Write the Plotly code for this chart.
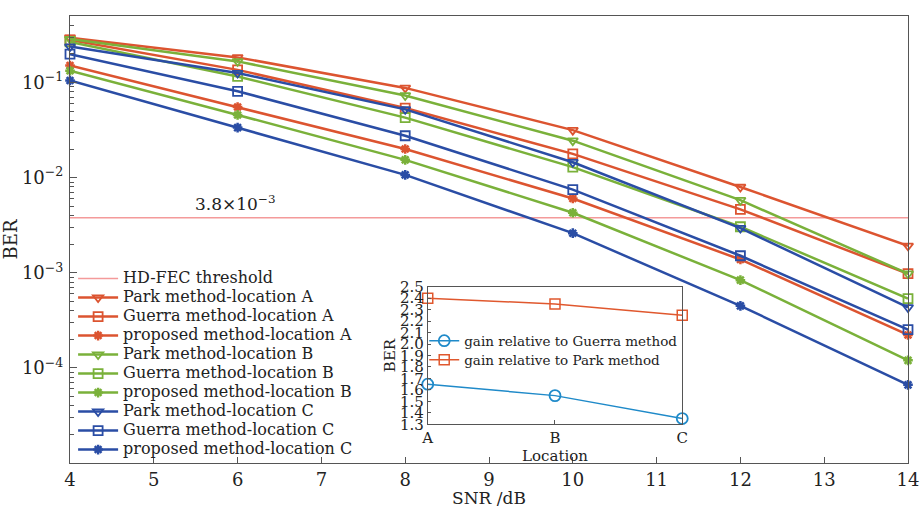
import plotly.graph_objects as go
import numpy as np

snr = [4, 6, 8, 10, 12, 14]

park_A = [0.296, 0.184, 0.0879, 0.0316, 0.00798, 0.00192]
guerra_A = [0.280, 0.136, 0.0540, 0.0178, 0.00465, 0.000978]
prop_A = [0.151, 0.0553, 0.0200, 0.00604, 0.00138, 0.000222]
park_B = [0.287, 0.167, 0.0732, 0.0245, 0.00580, 0.000978]
guerra_B = [0.268, 0.116, 0.0428, 0.0129, 0.00305, 0.000536]
prop_B = [0.133, 0.0457, 0.0154, 0.00428, 0.000837, 0.000120]
park_C = [0.239, 0.126, 0.0523, 0.01454, 0.00295, 0.000432]
guerra_C = [0.199, 0.081, 0.0276, 0.0075, 0.00151, 0.000252]
prop_C = [0.105, 0.0336, 0.0107, 0.00261, 0.000449, 0.0000663]

threshold = 3.8e-3

locations = ["A", "B", "C"]
gain_guerra = [1.65, 1.55, 1.35]
gain_park = [2.40, 2.35, 2.25]

RED = "#DC5430"
GREEN = "#7AB13A"
BLUE = "#2A4DA5"
FONT = "DejaVu Serif"


def big(txt, px):
    return "<span style='font-size:%spx'>%s</span>" % (px, txt)


fig = go.Figure()

fig.add_trace(go.Scatter(x=[snr[0], snr[-1]], y=[threshold, threshold], mode="lines",
                         line=dict(color="#F49A9A", width=1.5),
                         name=big("HD-FEC threshold", 16)))

series = [
    ("Park method-location A", park_A, RED, "triangle-down-open"),
    ("Guerra method-location A", guerra_A, RED, "square-open"),
    ("proposed method-location A", prop_A, RED, "asterisk-open"),
    ("Park method-location B", park_B, GREEN, "triangle-down-open"),
    ("Guerra method-location B", guerra_B, GREEN, "square-open"),
    ("proposed method-location B", prop_B, GREEN, "asterisk-open"),
    ("Park method-location C", park_C, BLUE, "triangle-down-open"),
    ("Guerra method-location C", guerra_C, BLUE, "square-open"),
    ("proposed method-location C", prop_C, BLUE, "asterisk-open"),
]
for name, vals, col, sym in series:
    fig.add_trace(go.Scatter(
        x=snr, y=vals, mode="lines+markers", name=big(name, 16), cliponaxis=False,
        line=dict(color=col, width=2.5),
        marker=dict(symbol=sym, size=9 if "asterisk" not in sym else 8, color=col,
                    line=dict(color=col, width=2.5 if "asterisk" in sym else 1.8)),
    ))

# inset
fig.add_trace(go.Scatter(x=locations, y=gain_guerra, mode="lines+markers",
                         name=big("gain relative to Guerra method", 13.5),
                         xaxis="x2", yaxis="y2", legend="legend2", cliponaxis=False,
                         line=dict(color="#1F8AC9", width=1.5),
                         marker=dict(symbol="circle-open", size=11, color="#1F8AC9",
                                     line=dict(width=1.8, color="#1F8AC9"))))
fig.add_trace(go.Scatter(x=locations, y=gain_park, mode="lines+markers",
                         name=big("gain relative to Park method", 13.5),
                         xaxis="x2", yaxis="y2", legend="legend2", cliponaxis=False,
                         line=dict(color="#E0582E", width=1.5),
                         marker=dict(symbol="square-open", size=10, color="#E0582E",
                                     line=dict(width=1.5, color="#E0582E"))))

minor_vals = [k * 10.0 ** e for e in range(-5, 0) for k in range(2, 10)]
major_vals = [1e-4, 1e-3, 1e-2, 1e-1]
major_text = ["10<sup>−4</sup>", "10<sup>−3</sup>", "10<sup>−2</sup>", "10<sup>−1</sup>"]

axcol = "#555555"
fig.update_layout(
    width=920, height=508,
    margin=dict(l=70, r=12, t=16, b=45, autoexpand=False),
    paper_bgcolor="white", plot_bgcolor="white",
    font=dict(family=FONT, size=16, color="#222222"),
    showlegend=True,
    xaxis=dict(range=[4, 14], dtick=1, tick0=4, ticks="inside", ticklen=6, tickcolor=axcol,
               showline=True, linecolor=axcol, linewidth=1, mirror=True, showgrid=False,
               zeroline=False, tickfont=dict(size=18), ticklabelstandoff=0,
               title=dict(text="SNR /dB", font=dict(size=17), standoff=0)),
    yaxis=dict(type="log", range=[-5, -0.3], tickvals=major_vals, ticktext=major_text,
               ticks="inside", ticklen=7, tickcolor=axcol, showline=True, linecolor=axcol,
               linewidth=1, mirror=True, showgrid=False, zeroline=False,
               tickfont=dict(size=18), ticklabelstandoff=2,
               minor=dict(tickvals=minor_vals, ticks="inside", ticklen=4, tickcolor=axcol,
                          showgrid=False),
               title=dict(text="BER", font=dict(size=18), standoff=10)),
    xaxis2=dict(domain=[0.4269, 0.7306], anchor="y2", type="category",
                range=[0, 2], ticks="inside", ticklen=4, tickcolor=axcol,
                showline=True, linecolor=axcol, mirror=True, showgrid=False,
                tickfont=dict(size=15), ticklabelstandoff=0,
                title=dict(text="Location", font=dict(size=15), standoff=0)),
    yaxis2=dict(domain=[0.0866, 0.3944], anchor="x2", range=[1.3, 2.5], dtick=0.1,
                tick0=1.3, tickformat=".1f", ticks="inside", ticklen=3, tickcolor=axcol,
                showline=True, linecolor=axcol, mirror=True, showgrid=False, zeroline=False,
                tickfont=dict(size=15), ticklabelstandoff=0,
                title=dict(text="BER", font=dict(size=15), standoff=0)),
    legend=dict(x=0.0037, y=0.445, xanchor="left", yanchor="top", bgcolor="rgba(0,0,0,0)",
                font=dict(size=12, family=FONT), tracegroupgap=0, itemwidth=40,
                borderwidth=0),
    legend2=dict(x=0.4227, y=0.306, xanchor="left", yanchor="top",
                 bgcolor="rgba(0,0,0,0)", font=dict(size=12.3, family=FONT),
                 itemwidth=30, borderwidth=0),
    annotations=[
        dict(x=5.97, y=np.log10(threshold), xref="x", yref="y", text="3.8×10<sup>−3</sup>",
             showarrow=False, yanchor="bottom", yshift=2, font=dict(size=17, family=FONT)),
    ],
)

fig.write_html("out.html", config={"displayModeBar": False},
               post_script="document.body.style.margin='0';document.body.style.overflow='hidden';")
